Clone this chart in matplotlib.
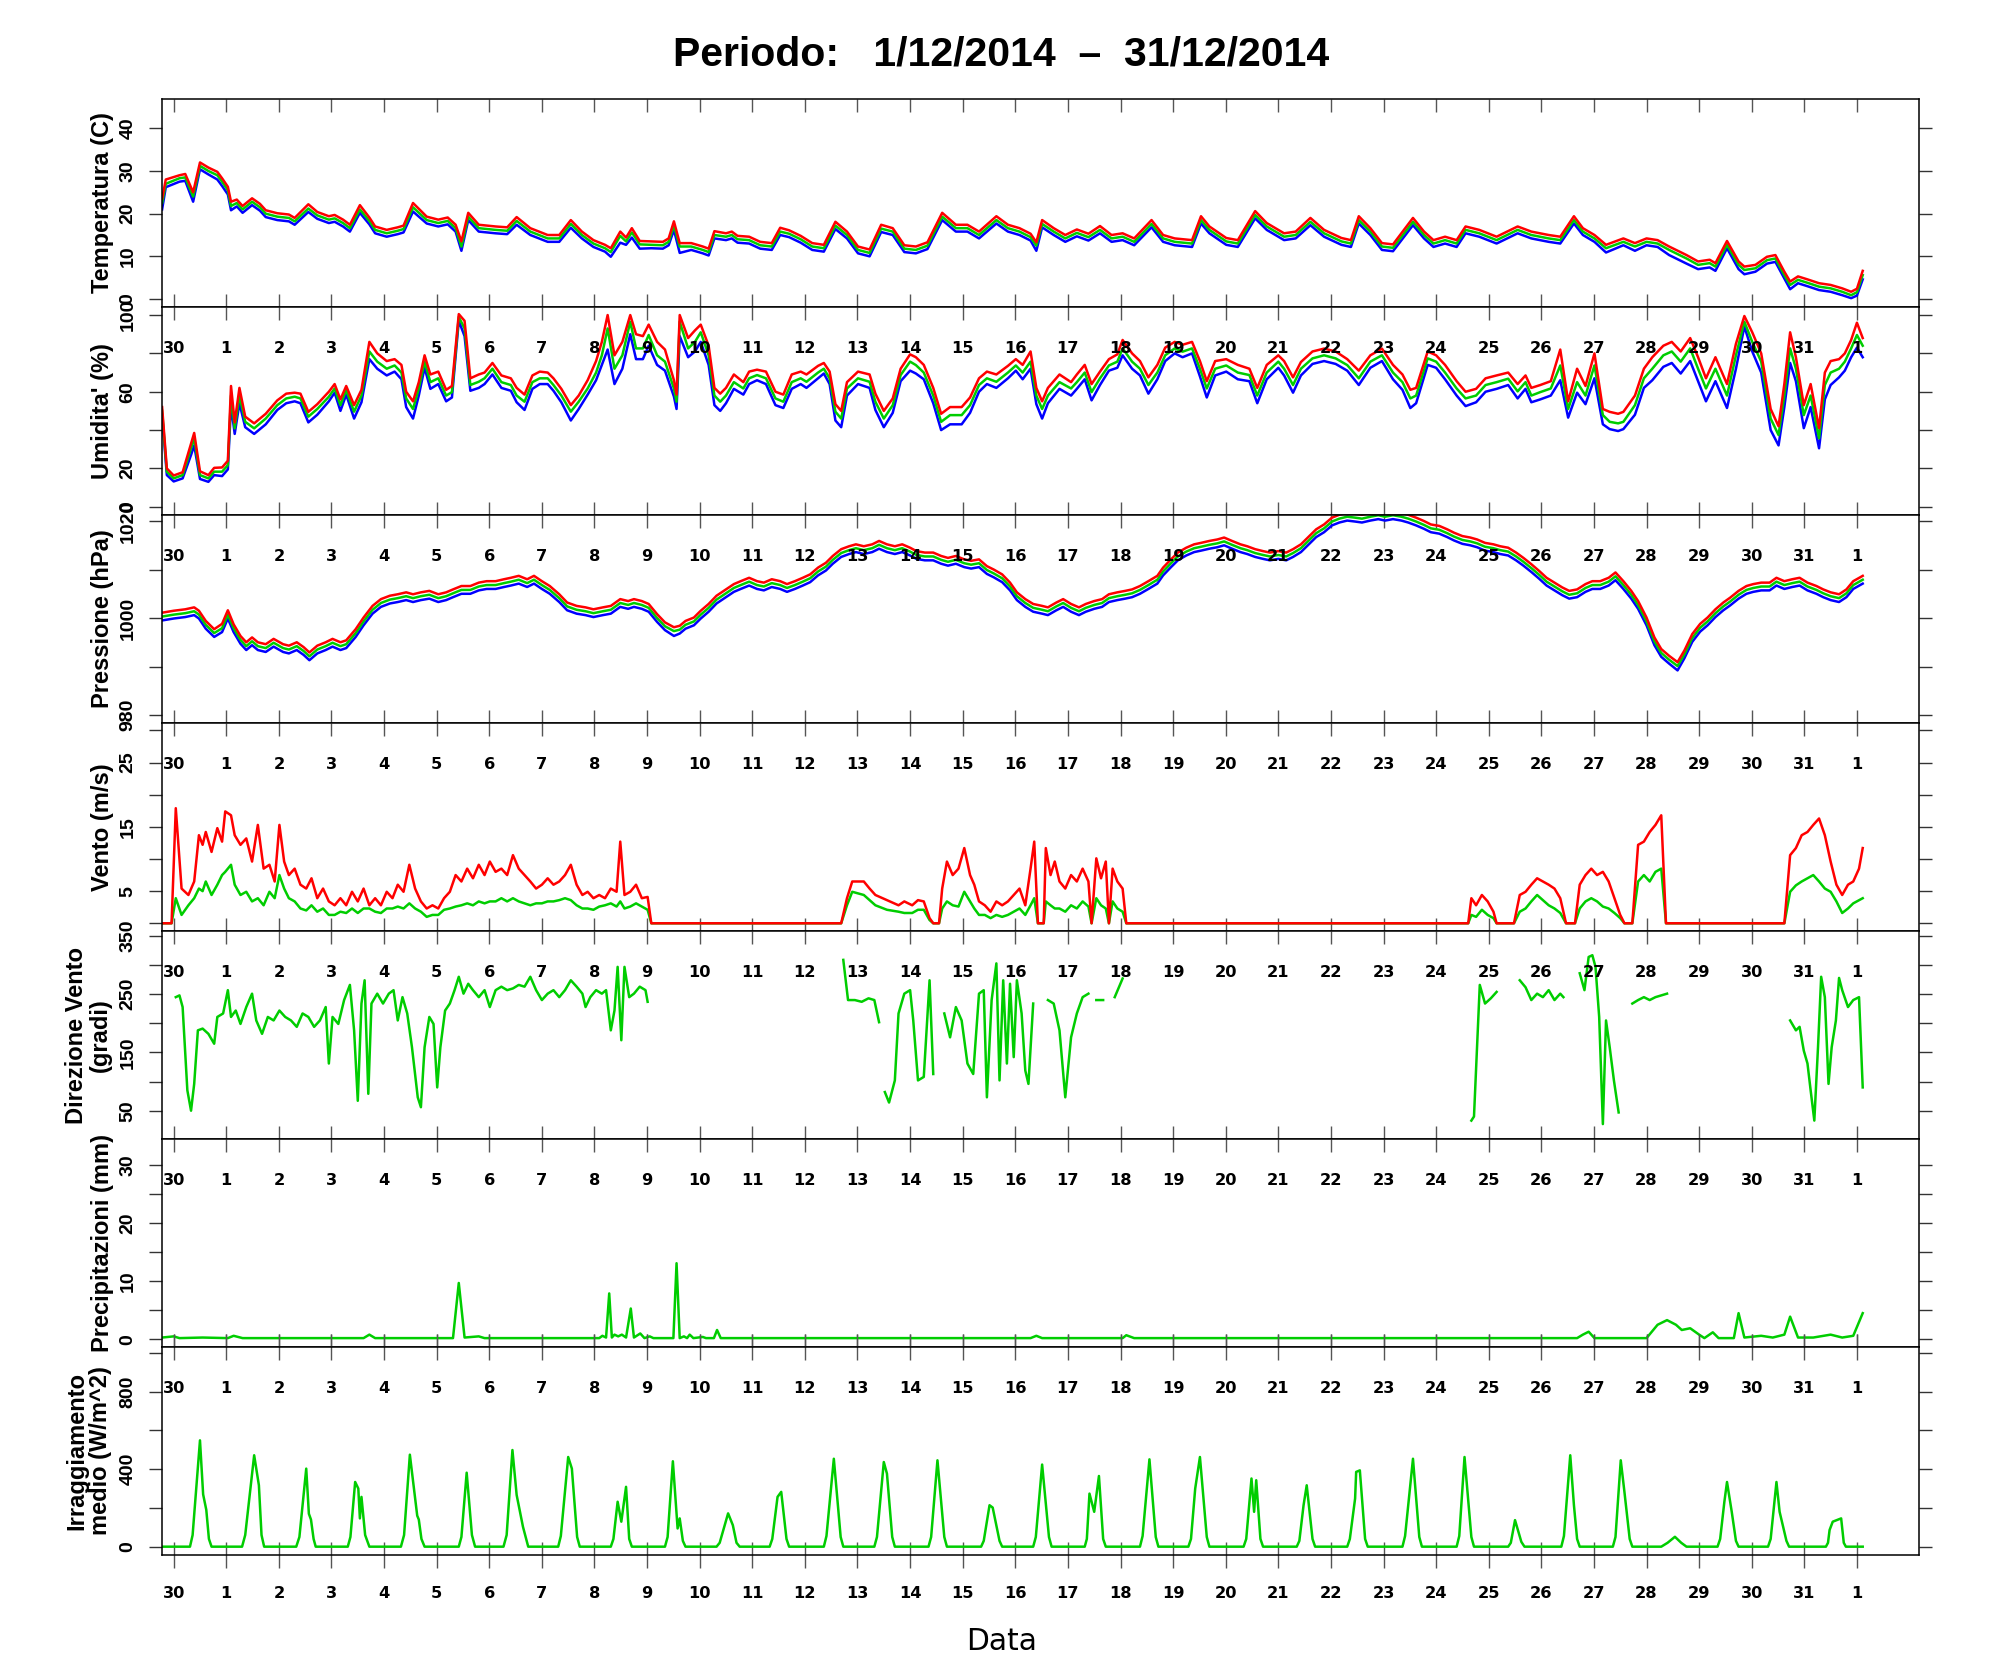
import matplotlib
matplotlib.use("Agg")
import matplotlib.pyplot as plt

nan = float("nan")

# x axis: days, 0 = 30 Nov 00:00, 1 = 1 Dec 00:00 ... 32 = 1 Jan
day_ticks = list(range(33))
day_labels = ["30"] + [str(d) for d in range(1, 32)] + ["1"]

title_text = "Periodo:   1/12/2014  \u2013  31/12/2014"

# ---- temperature (C)
temp_t = [-0.22, -0.15, 0.11, 0.22, 0.37, 0.50, 0.66, 0.83, 0.92, 1.03,
          1.09, 1.20, 1.31, 1.49, 1.64, 1.75, 1.97, 2.19, 2.30, 2.56,
          2.73, 2.95, 3.06, 3.22, 3.35, 3.54, 3.72, 3.83, 4.05, 4.26,
          4.37, 4.55, 4.81, 5.03, 5.21, 5.36, 5.47, 5.60, 5.80, 6.12,
          6.34, 6.52, 6.78, 7.11, 7.33, 7.55, 7.76, 7.98, 8.20, 8.31,
          8.49, 8.60, 8.71, 8.86, 9.08, 9.30, 9.41, 9.51, 9.62, 9.84,
          10.06, 10.17, 10.28, 10.50, 10.61, 10.72, 10.94, 11.15, 11.37, 11.53,
          11.70, 11.92, 12.14, 12.36, 12.58, 12.80, 13.01, 13.23, 13.45, 13.67,
          13.89, 14.11, 14.33, 14.61, 14.87, 15.09, 15.31, 15.64, 15.86, 16.08,
          16.29, 16.40, 16.51, 16.73, 16.95, 17.17, 17.39, 17.61, 17.83, 18.04,
          18.26, 18.59, 18.81, 19.03, 19.36, 19.53, 19.69, 20.01, 20.23, 20.56,
          20.78, 21.11, 21.33, 21.61, 21.87, 22.20, 22.38, 22.53, 22.75, 22.97,
          23.18, 23.56, 23.77, 23.95, 24.17, 24.39, 24.56, 24.82, 25.15, 25.55,
          25.81, 26.14, 26.36, 26.62, 26.79, 27.01, 27.23, 27.56, 27.78, 28.00,
          28.21, 28.43, 28.76, 28.98, 29.20, 29.31, 29.53, 29.75, 29.86, 30.07,
          30.29, 30.45, 30.62, 30.73, 30.88, 31.06, 31.28, 31.50, 31.72, 31.89,
          32.00, 32.11]
temp_mean = [22.5, 27.0, 28.3, 28.5, 24.0, 31.2, 30.0, 29.0, 27.5, 25.5,
             21.8, 22.5, 21.0, 22.8, 21.5, 20.0, 19.3, 19.0, 18.2, 21.2,
             19.6, 18.6, 18.9, 17.8, 16.6, 21.0, 18.3, 16.2, 15.4, 16.0,
             16.4, 21.5, 18.5, 17.8, 18.3, 16.6, 12.3, 19.3, 16.6, 16.2,
             16.0, 18.3, 15.8, 14.2, 14.2, 17.6, 15.0, 13.0, 11.9, 11.0,
             14.8, 13.5, 15.6, 12.8, 12.7, 12.6, 13.4, 17.2, 12.3, 12.3,
             11.5, 11.0, 15.0, 14.6, 15.0, 14.0, 13.8, 12.6, 12.3, 15.8,
             15.3, 14.0, 12.3, 11.9, 17.2, 15.0, 11.5, 10.8, 16.5, 15.8,
             11.8, 11.5, 12.5, 19.3, 16.6, 16.6, 15.0, 18.5, 16.6, 15.8,
             14.5, 12.5, 17.6, 15.8, 14.2, 15.5, 14.5, 16.2, 14.2, 14.6,
             13.4, 17.6, 14.2, 13.4, 13.0, 18.5, 16.2, 13.5, 13.0, 19.7,
             17.0, 14.6, 15.0, 18.1, 15.4, 13.5, 13.0, 18.5, 15.8, 12.3,
             12.0, 18.1, 15.0, 13.0, 13.8, 13.0, 16.2, 15.4, 13.8, 16.2,
             15.0, 14.2, 13.8, 18.5, 15.8, 14.2, 11.9, 13.4, 12.3, 13.4,
             13.0, 11.5, 9.5, 8.0, 8.4, 7.6, 12.7, 8.0, 6.8, 7.2,
             9.1, 9.5, 5.6, 3.3, 4.5, 3.8, 2.9, 2.5, 1.7, 0.9,
             1.6, 5.6]
temp_max = [23.5, 28.0, 29.0, 29.3, 25.0, 32.0, 30.8, 29.8, 28.3, 26.3,
            22.8, 23.3, 21.8, 23.6, 22.3, 20.8, 20.1, 19.8, 19.0, 22.2,
            20.4, 19.4, 19.7, 18.6, 17.4, 22.0, 19.1, 17.0, 16.2, 16.8,
            17.2, 22.5, 19.3, 18.6, 19.1, 17.4, 13.5, 20.2, 17.4, 17.0,
            16.8, 19.2, 16.6, 15.0, 15.0, 18.5, 15.8, 13.8, 12.7, 11.9,
            15.8, 14.4, 16.6, 13.6, 13.5, 13.4, 14.2, 18.2, 13.1, 13.1,
            12.3, 11.8, 15.9, 15.4, 15.8, 14.8, 14.6, 13.4, 13.1, 16.7,
            16.1, 14.8, 13.1, 12.7, 18.1, 15.8, 12.3, 11.6, 17.4, 16.6,
            12.6, 12.3, 13.3, 20.2, 17.4, 17.4, 15.8, 19.4, 17.4, 16.6,
            15.3, 13.3, 18.5, 16.6, 15.0, 16.3, 15.3, 17.1, 15.0, 15.4,
            14.2, 18.5, 15.0, 14.2, 13.8, 19.4, 17.0, 14.3, 13.8, 20.6,
            17.8, 15.4, 15.8, 19.0, 16.2, 14.3, 13.8, 19.4, 16.6, 13.1,
            12.8, 19.0, 15.8, 13.8, 14.6, 13.8, 17.0, 16.2, 14.6, 17.0,
            15.8, 15.0, 14.6, 19.4, 16.6, 15.0, 12.7, 14.2, 13.1, 14.2,
            13.8, 12.3, 10.3, 8.8, 9.2, 8.4, 13.6, 8.8, 7.6, 8.0,
            9.9, 10.3, 6.4, 4.1, 5.3, 4.6, 3.7, 3.3, 2.5, 1.7,
            2.4, 6.6]
temp_min = [21.0, 26.2, 27.5, 27.7, 22.8, 30.4, 29.2, 28.0, 26.5, 24.5,
            20.8, 21.7, 20.2, 22.0, 20.7, 19.2, 18.5, 18.2, 17.4, 20.4,
            18.8, 17.8, 18.1, 17.0, 15.8, 20.2, 17.5, 15.4, 14.6, 15.2,
            15.6, 20.5, 17.7, 17.0, 17.5, 15.8, 11.3, 18.5, 15.8, 15.4,
            15.2, 17.4, 15.0, 13.4, 13.4, 16.7, 14.2, 12.2, 11.1, 9.9,
            13.2, 12.7, 14.4, 11.8, 11.9, 11.8, 12.6, 16.2, 10.8, 11.5,
            10.7, 10.2, 14.2, 13.8, 14.2, 13.2, 13.0, 11.8, 11.5, 15.0,
            14.5, 13.2, 11.5, 11.1, 16.4, 14.2, 10.7, 10.0, 15.7, 15.0,
            11.0, 10.7, 11.7, 18.5, 15.8, 15.8, 14.2, 17.7, 15.8, 15.0,
            13.7, 11.3, 16.8, 15.0, 13.4, 14.7, 13.7, 15.4, 13.4, 13.8,
            12.6, 16.8, 13.4, 12.6, 12.2, 17.7, 15.4, 12.7, 12.2, 18.9,
            16.2, 13.8, 14.2, 17.3, 14.6, 12.7, 12.2, 17.7, 15.0, 11.5,
            11.2, 17.3, 14.2, 12.2, 13.0, 12.2, 15.4, 14.6, 13.0, 15.4,
            14.2, 13.4, 13.0, 17.7, 15.0, 13.4, 10.9, 12.6, 11.3, 12.6,
            12.2, 10.3, 8.3, 7.0, 7.4, 6.6, 11.9, 7.0, 5.8, 6.4,
            8.3, 8.7, 4.8, 2.3, 3.7, 3.0, 2.1, 1.7, 0.9, 0.2,
            0.8, 4.6]

# ---- relative humidity (%)
hum_t = [-0.22, -0.13, 0.00, 0.17, 0.33, 0.39, 0.50, 0.66, 0.77, 0.92,
         1.03, 1.09, 1.16, 1.25, 1.36, 1.53, 1.75, 1.97, 2.14, 2.30,
         2.41, 2.56, 2.73, 2.95, 3.06, 3.17, 3.28, 3.43, 3.57, 3.72,
         3.87, 4.05, 4.20, 4.33, 4.42, 4.55, 4.66, 4.77, 4.88, 5.03,
         5.18, 5.29, 5.42, 5.53, 5.64, 5.80, 5.91, 6.06, 6.23, 6.41,
         6.52, 6.67, 6.82, 6.96, 7.11, 7.22, 7.37, 7.55, 7.70, 7.87,
         8.03, 8.14, 8.25, 8.38, 8.53, 8.68, 8.79, 8.92, 9.03, 9.19,
         9.34, 9.51, 9.56, 9.62, 9.78, 9.91, 10.02, 10.17, 10.28, 10.39,
         10.50, 10.65, 10.83, 10.94, 11.09, 11.26, 11.44, 11.59, 11.75, 11.92,
         12.03, 12.25, 12.36, 12.47, 12.58, 12.69, 12.80, 13.01, 13.23, 13.34,
         13.50, 13.67, 13.82, 14.00, 14.11, 14.26, 14.44, 14.59, 14.76, 14.98,
         15.14, 15.31, 15.46, 15.64, 15.86, 16.01, 16.14, 16.29, 16.40, 16.51,
         16.62, 16.84, 17.06, 17.17, 17.32, 17.45, 17.61, 17.78, 17.94, 18.04,
         18.22, 18.37, 18.53, 18.70, 18.85, 19.03, 19.18, 19.36, 19.51, 19.64,
         19.80, 20.01, 20.23, 20.45, 20.60, 20.78, 21.00, 21.11, 21.28, 21.43,
         21.65, 21.87, 22.09, 22.31, 22.53, 22.75, 22.97, 23.18, 23.36, 23.51,
         23.62, 23.84, 24.00, 24.17, 24.39, 24.56, 24.76, 24.94, 25.15, 25.37,
         25.55, 25.70, 25.81, 25.98, 26.18, 26.36, 26.51, 26.68, 26.84, 27.01,
         27.17, 27.30, 27.46, 27.56, 27.78, 27.95, 28.11, 28.32, 28.48, 28.65,
         28.83, 28.98, 29.13, 29.31, 29.53, 29.70, 29.86, 30.01, 30.18, 30.36,
         30.51, 30.62, 30.73, 30.84, 30.99, 31.12, 31.28, 31.39, 31.50, 31.66,
         31.77, 31.89, 32.00, 32.11]
hum_mean = [50.0, 18.3, 14.8, 16.5, 30.4, 35.7, 16.5, 14.8, 18.3, 18.3,
            21.7, 58.0, 40.9, 58.0, 44.3, 40.9, 46.0, 53.0, 56.5, 57.4,
            56.5, 47.0, 51.0, 57.4, 61.7, 53.0, 60.9, 49.6, 58.0, 81.0,
            75.7, 72.0, 73.7, 70.0, 56.5, 51.0, 61.7, 75.7, 65.0, 67.0,
            58.0, 59.8, 99.0, 93.0, 63.5, 65.2, 67.0, 72.0, 65.0, 63.5,
            58.0, 54.8, 65.0, 67.0, 67.0, 63.5, 58.0, 49.6, 54.8, 61.7,
            70.0, 79.0, 93.0, 72.0, 79.0, 96.5, 82.6, 82.6, 89.6, 79.0,
            75.7, 61.7, 54.8, 96.5, 82.6, 86.0, 91.0, 79.0, 58.0, 54.8,
            58.0, 65.0, 61.7, 67.0, 68.7, 67.0, 56.5, 54.8, 65.0, 67.0,
            65.2, 70.0, 72.0, 67.0, 49.6, 46.0, 61.7, 67.0, 65.2, 54.8,
            46.0, 53.0, 68.7, 75.7, 73.9, 70.0, 58.0, 44.3, 47.8, 47.8,
            53.0, 63.5, 67.0, 65.2, 70.0, 73.7, 70.0, 75.7, 58.0, 51.0,
            58.0, 65.0, 61.7, 65.0, 70.0, 59.8, 67.0, 73.7, 75.7, 82.6,
            75.7, 72.0, 63.5, 70.0, 79.0, 82.6, 80.9, 82.6, 72.0, 61.7,
            72.0, 73.7, 70.0, 68.7, 58.0, 70.0, 75.7, 72.0, 63.5, 72.0,
            77.4, 79.0, 77.4, 73.9, 67.0, 75.7, 79.0, 70.0, 65.0, 56.5,
            58.0, 77.4, 75.7, 70.0, 61.7, 56.5, 58.0, 63.5, 65.0, 66.8,
            60.2, 65.0, 58.0, 59.8, 61.7, 73.7, 51.0, 65.0, 58.0, 73.7,
            47.8, 44.3, 43.5, 44.3, 53.0, 67.0, 72.0, 79.0, 81.0, 75.7,
            82.6, 72.0, 61.7, 72.0, 58.0, 79.0, 96.5, 86.0, 75.7, 46.0,
            37.4, 58.0, 82.6, 72.0, 47.8, 58.0, 35.7, 63.5, 70.0, 72.0,
            75.7, 82.6, 89.6, 84.0]
hum_max = [52.0, 20.0, 16.3, 18.0, 33.0, 38.5, 18.5, 16.5, 20.3, 20.5,
           24.0, 63.0, 44.0, 62.0, 47.0, 43.5, 48.5, 55.5, 59.0, 59.5,
           59.0, 49.5, 53.5, 60.0, 64.0, 56.0, 63.0, 53.0, 61.0, 86.0,
           80.0, 76.0, 77.0, 74.0, 60.0, 55.0, 65.0, 79.0, 69.0, 70.5,
           61.0, 63.0, 100.5, 97.0, 67.0, 69.0, 70.0, 75.0, 68.5, 67.0,
           62.0, 58.5, 68.5, 70.5, 70.0, 67.0, 61.5, 53.0, 58.0, 66.0,
           76.0, 86.0, 100.0, 79.0, 86.0, 100.0, 90.0, 89.0, 95.0, 86.0,
           82.0, 66.0, 58.5, 100.0, 88.0, 92.0, 95.0, 84.0, 62.0, 59.0,
           62.0, 69.0, 65.0, 70.5, 71.5, 70.5, 60.0, 58.5, 69.0, 70.5,
           69.0, 73.5, 75.0, 70.5, 53.5, 50.0, 65.0, 70.5, 69.0, 59.0,
           50.0, 56.5, 72.0, 79.5, 78.0, 74.0, 62.0, 48.5, 52.0, 52.0,
           57.0, 67.0, 70.5, 69.0, 73.5, 77.0, 74.0, 81.0, 62.0, 55.0,
           62.0, 69.0, 65.0, 69.0, 74.0, 64.0, 70.5, 77.0, 79.5, 87.0,
           80.0, 76.0, 67.5, 74.0, 83.0, 86.0, 84.5, 86.0, 76.0, 65.5,
           76.0, 77.0, 74.0, 72.0, 62.0, 74.0, 79.0, 76.0, 67.5, 75.5,
           81.0, 82.5, 81.0, 77.0, 71.0, 79.0, 82.5, 74.0, 69.0, 61.0,
           62.0, 81.0, 79.0, 74.0, 65.5, 60.0, 61.5, 67.0, 68.5, 70.0,
           64.0, 68.5, 62.0, 63.5, 65.5, 82.0, 55.0, 72.0, 63.0, 80.0,
           51.0, 49.5, 48.5, 49.5, 58.0, 72.0, 78.0, 84.0, 86.0, 81.0,
           88.0, 78.0, 67.0, 78.0, 64.0, 85.0, 99.5, 91.0, 80.0, 51.0,
           42.0, 64.0, 91.0, 78.0, 53.0, 64.0, 41.0, 70.0, 76.0, 77.0,
           80.0, 87.0, 96.0, 88.0]
hum_min = [48.0, 16.5, 13.2, 14.8, 27.0, 32.0, 14.5, 13.0, 16.5, 16.0,
           19.5, 53.0, 38.0, 54.0, 41.5, 38.0, 43.0, 50.5, 54.0, 55.0,
           54.0, 44.0, 48.0, 55.0, 59.5, 50.0, 58.5, 46.0, 54.5, 77.0,
           72.0, 68.5, 70.5, 66.5, 52.0, 46.0, 58.0, 72.5, 61.5, 64.0,
           55.0, 57.0, 97.0, 89.0, 60.5, 62.0, 64.0, 69.0, 62.0, 60.5,
           54.5, 50.5, 61.5, 64.0, 64.0, 60.5, 54.5, 45.0, 51.0, 58.5,
           66.0, 74.0, 82.0, 64.0, 72.0, 90.0, 77.0, 77.0, 84.0, 74.0,
           71.0, 57.5, 51.0, 89.0, 78.0, 81.0, 86.0, 74.0, 53.0, 50.0,
           54.0, 61.5, 58.5, 64.0, 66.0, 64.0, 53.0, 51.5, 61.5, 64.0,
           62.0, 67.0, 69.5, 64.0, 45.0, 41.5, 58.0, 64.0, 62.0, 50.5,
           41.5, 49.0, 65.5, 71.0, 69.5, 66.5, 54.0, 40.0, 43.0, 43.0,
           49.0, 60.0, 64.0, 62.0, 67.0, 71.0, 66.5, 72.0, 53.5, 46.0,
           54.0, 61.5, 58.0, 61.5, 66.5, 55.5, 63.5, 71.0, 72.5, 79.0,
           72.0, 68.5, 59.0, 66.5, 76.0, 80.0, 78.0, 80.0, 68.0, 57.0,
           68.5, 70.5, 66.5, 65.5, 54.0, 66.5, 72.5, 68.5, 59.5, 68.5,
           74.5, 76.0, 74.5, 71.0, 63.5, 72.5, 76.0, 66.5, 61.0, 51.5,
           54.0, 74.0, 72.5, 66.5, 58.0, 52.5, 54.5, 60.0, 61.5, 63.5,
           56.5, 61.5, 54.5, 56.0, 58.0, 66.0, 46.5, 59.5, 53.5, 67.0,
           43.0, 40.5, 39.5, 40.5, 48.0, 62.0, 66.0, 73.0, 75.0, 69.5,
           76.0, 65.5, 55.0, 65.5, 51.5, 72.0, 94.0, 81.0, 70.0, 40.0,
           32.0, 52.0, 75.0, 65.5, 41.0, 52.0, 30.5, 56.0, 63.5, 67.5,
           71.0, 78.0, 83.0, 78.0]

# ---- pressure (hPa)
pres_t = [-0.22, 0.00, 0.22, 0.39, 0.48, 0.61, 0.77, 0.92, 1.03, 1.14,
          1.27, 1.38, 1.49, 1.60, 1.75, 1.90, 2.08, 2.19, 2.34, 2.47,
          2.58, 2.73, 2.89, 3.02, 3.17, 3.28, 3.46, 3.61, 3.78, 3.94,
          4.11, 4.26, 4.42, 4.55, 4.70, 4.86, 5.03, 5.18, 5.31, 5.47,
          5.64, 5.80, 5.95, 6.12, 6.28, 6.41, 6.56, 6.72, 6.85, 7.00,
          7.15, 7.33, 7.48, 7.66, 7.83, 7.98, 8.16, 8.31, 8.49, 8.64,
          8.75, 8.90, 9.03, 9.19, 9.34, 9.51, 9.62, 9.73, 9.89, 10.02,
          10.17, 10.32, 10.50, 10.65, 10.78, 10.94, 11.09, 11.22, 11.37, 11.53,
          11.66, 11.81, 11.96, 12.10, 12.25, 12.40, 12.53, 12.69, 12.84, 12.97,
          13.12, 13.28, 13.41, 13.56, 13.71, 13.85, 14.00, 14.12, 14.28, 14.44,
          14.59, 14.72, 14.87, 15.03, 15.16, 15.31, 15.46, 15.59, 15.75, 15.90,
          16.03, 16.19, 16.34, 16.51, 16.62, 16.78, 16.91, 17.06, 17.21, 17.34,
          17.50, 17.65, 17.78, 17.94, 18.09, 18.22, 18.37, 18.53, 18.70, 18.81,
          18.96, 19.09, 19.25, 19.40, 19.53, 19.69, 19.84, 19.97, 20.12, 20.28,
          20.41, 20.56, 20.71, 20.84, 21.00, 21.15, 21.28, 21.43, 21.59, 21.72,
          21.87, 22.02, 22.16, 22.31, 22.46, 22.59, 22.75, 22.90, 23.03, 23.18,
          23.34, 23.47, 23.62, 23.77, 23.90, 24.06, 24.21, 24.34, 24.50, 24.65,
          24.78, 24.93, 25.09, 25.22, 25.37, 25.52, 25.66, 25.81, 25.96, 26.10,
          26.25, 26.40, 26.53, 26.68, 26.84, 26.97, 27.12, 27.28, 27.41, 27.56,
          27.71, 27.84, 28.00, 28.15, 28.28, 28.43, 28.59, 28.72, 28.87, 29.02,
          29.16, 29.31, 29.46, 29.59, 29.75, 29.90, 30.03, 30.18, 30.34, 30.47,
          30.62, 30.77, 30.91, 31.06, 31.23, 31.36, 31.50, 31.66, 31.80, 31.93,
          32.11]
pres_mean = [1000.3, 1000.7, 1001.0, 1001.4, 1000.7, 998.6, 996.9, 997.9, 1000.7, 997.9,
             995.5, 994.2, 995.2, 994.2, 993.8, 994.9, 993.8, 993.5, 994.2, 993.2,
             992.1, 993.5, 994.2, 994.9, 994.2, 994.6, 996.9, 999.3, 1001.7, 1003.1,
             1003.8, 1004.1, 1004.5, 1004.1, 1004.5, 1004.8, 1004.1, 1004.5, 1005.1, 1005.8,
             1005.8, 1006.5, 1006.8, 1006.8, 1007.2, 1007.5, 1007.9, 1007.2, 1007.9, 1006.8,
             1005.8, 1004.1, 1002.4, 1001.7, 1001.4, 1001.0, 1001.4, 1001.7, 1003.1, 1002.7,
             1003.1, 1002.7, 1002.1, 1000.0, 998.3, 997.3, 997.6, 998.6, 999.3, 1000.7,
             1002.1, 1003.8, 1005.1, 1006.2, 1006.8, 1007.5, 1006.8, 1006.5, 1007.2, 1006.8,
             1006.2, 1006.8, 1007.5, 1008.2, 1009.6, 1010.6, 1012.0, 1013.4, 1014.0, 1014.4,
             1014.0, 1014.4, 1015.1, 1014.4, 1014.0, 1014.4, 1013.7, 1013.0, 1012.7, 1012.7,
             1012.0, 1011.6, 1012.0, 1011.3, 1011.0, 1011.3, 1009.9, 1009.2, 1008.2, 1006.5,
             1004.5, 1003.1, 1002.1, 1001.7, 1001.4, 1002.4, 1003.1, 1002.1, 1001.4, 1002.1,
             1002.7, 1003.1, 1004.1, 1004.5, 1004.8, 1005.1, 1005.8, 1006.8, 1007.9, 1009.6,
             1011.3, 1012.7, 1013.7, 1014.4, 1014.7, 1015.1, 1015.4, 1015.8, 1015.1, 1014.4,
             1014.0, 1013.4, 1013.0, 1012.7, 1013.0, 1012.7, 1013.4, 1014.4, 1016.1, 1017.5,
             1018.5, 1019.9, 1020.5, 1020.9, 1020.7, 1020.5, 1020.9, 1021.2, 1020.9, 1021.2,
             1020.9, 1020.5, 1019.9, 1019.2, 1018.5, 1018.2, 1017.5, 1016.8, 1016.1, 1015.8,
             1015.4, 1014.7, 1014.4, 1014.0, 1013.7, 1012.7, 1011.6, 1010.3, 1008.9, 1007.5,
             1006.5, 1005.5, 1004.8, 1005.1, 1006.2, 1006.8, 1006.8, 1007.5, 1008.6, 1006.8,
             1004.8, 1002.7, 999.3, 995.2, 992.8, 991.4, 990.1, 992.5, 995.9, 998.0,
             999.3, 1001.0, 1002.4, 1003.4, 1004.8, 1005.8, 1006.2, 1006.5, 1006.5, 1007.5,
             1006.8, 1007.2, 1007.5, 1006.5, 1005.8, 1005.1, 1004.5, 1004.1, 1005.1, 1006.8,
             1007.9]
pres_max = [1001.1, 1001.5, 1001.8, 1002.2, 1001.5, 999.4, 997.7, 998.8, 1001.6, 998.7,
            996.3, 995.0, 996.0, 995.0, 994.6, 995.7, 994.6, 994.3, 995.0, 994.0,
            992.9, 994.3, 995.0, 995.7, 995.0, 995.4, 997.7, 1000.1, 1002.5, 1003.9,
            1004.6, 1004.9, 1005.3, 1004.9, 1005.3, 1005.6, 1004.9, 1005.3, 1005.9, 1006.6,
            1006.6, 1007.3, 1007.6, 1007.6, 1008.0, 1008.3, 1008.7, 1008.0, 1008.7, 1007.6,
            1006.6, 1004.9, 1003.2, 1002.5, 1002.2, 1001.8, 1002.2, 1002.5, 1003.9, 1003.5,
            1003.9, 1003.5, 1002.9, 1000.8, 999.1, 998.1, 998.4, 999.4, 1000.1, 1001.5,
            1002.9, 1004.6, 1005.9, 1007.0, 1007.6, 1008.3, 1007.6, 1007.3, 1008.0, 1007.6,
            1007.0, 1007.6, 1008.3, 1009.0, 1010.4, 1011.4, 1012.8, 1014.2, 1014.8, 1015.2,
            1014.8, 1015.2, 1015.9, 1015.2, 1014.8, 1015.2, 1014.5, 1013.8, 1013.5, 1013.5,
            1012.8, 1012.4, 1012.8, 1012.1, 1011.8, 1012.1, 1010.7, 1010.0, 1009.0, 1007.3,
            1005.3, 1003.9, 1002.9, 1002.5, 1002.2, 1003.2, 1003.9, 1002.9, 1002.2, 1002.9,
            1003.5, 1003.9, 1004.9, 1005.3, 1005.6, 1005.9, 1006.6, 1007.6, 1008.7, 1010.4,
            1012.1, 1013.5, 1014.5, 1015.2, 1015.5, 1015.9, 1016.2, 1016.6, 1015.9, 1015.2,
            1014.8, 1014.2, 1013.8, 1013.5, 1013.8, 1013.5, 1014.2, 1015.2, 1016.9, 1018.3,
            1019.3, 1020.7, 1021.3, 1021.7, 1021.5, 1021.3, 1021.7, 1022.0, 1021.7, 1022.0,
            1021.7, 1021.3, 1020.7, 1020.0, 1019.3, 1019.0, 1018.3, 1017.6, 1016.9, 1016.6,
            1016.2, 1015.5, 1015.2, 1014.8, 1014.5, 1013.5, 1012.4, 1011.1, 1009.7, 1008.3,
            1007.3, 1006.3, 1005.6, 1005.9, 1007.0, 1007.6, 1007.6, 1008.3, 1009.4, 1007.6,
            1005.6, 1003.5, 1000.1, 996.0, 993.6, 992.2, 990.9, 993.3, 996.7, 998.8,
            1000.1, 1001.8, 1003.2, 1004.2, 1005.6, 1006.6, 1007.0, 1007.3, 1007.3, 1008.3,
            1007.6, 1008.0, 1008.3, 1007.3, 1006.6, 1005.9, 1005.3, 1004.9, 1005.9, 1007.6,
            1008.7]
pres_min = [999.5, 999.9, 1000.2, 1000.6, 999.9, 997.8, 996.1, 997.1, 999.9, 997.1,
            994.7, 993.4, 994.4, 993.4, 993.0, 994.1, 993.0, 992.7, 993.4, 992.4,
            991.3, 992.7, 993.4, 994.1, 993.4, 993.8, 996.1, 998.5, 1000.9, 1002.3,
            1003.0, 1003.3, 1003.7, 1003.3, 1003.7, 1004.0, 1003.3, 1003.7, 1004.3, 1005.0,
            1005.0, 1005.7, 1006.0, 1006.0, 1006.4, 1006.7, 1007.1, 1006.4, 1007.1, 1006.0,
            1005.0, 1003.3, 1001.6, 1000.9, 1000.6, 1000.2, 1000.6, 1000.9, 1002.3, 1001.9,
            1002.3, 1001.9, 1001.3, 999.2, 997.5, 996.3, 996.8, 997.8, 998.5, 999.9,
            1001.3, 1003.0, 1004.3, 1005.4, 1006.0, 1006.7, 1006.0, 1005.7, 1006.4, 1006.0,
            1005.4, 1006.0, 1006.7, 1007.4, 1008.8, 1009.8, 1011.2, 1012.6, 1013.2, 1013.6,
            1013.2, 1013.6, 1014.3, 1013.6, 1013.2, 1013.6, 1012.9, 1012.2, 1011.9, 1011.9,
            1011.2, 1010.8, 1011.2, 1010.5, 1010.2, 1010.5, 1009.1, 1008.4, 1007.4, 1005.7,
            1003.7, 1002.3, 1001.3, 1000.9, 1000.6, 1001.6, 1002.3, 1001.3, 1000.6, 1001.3,
            1001.9, 1002.3, 1003.3, 1003.7, 1004.0, 1004.3, 1005.0, 1006.0, 1007.1, 1008.8,
            1010.5, 1011.9, 1012.9, 1013.6, 1013.9, 1014.3, 1014.6, 1015.0, 1014.3, 1013.6,
            1013.2, 1012.6, 1012.2, 1011.9, 1012.2, 1011.9, 1012.6, 1013.6, 1015.3, 1016.7,
            1017.7, 1019.1, 1019.7, 1020.1, 1019.9, 1019.7, 1020.1, 1020.4, 1020.1, 1020.4,
            1020.1, 1019.7, 1019.1, 1018.4, 1017.7, 1017.4, 1016.7, 1016.0, 1015.3, 1015.0,
            1014.6, 1013.9, 1013.6, 1013.2, 1012.9, 1011.9, 1010.8, 1009.5, 1008.1, 1006.7,
            1005.7, 1004.7, 1004.0, 1004.3, 1005.4, 1006.0, 1006.0, 1006.7, 1007.8, 1006.0,
            1004.0, 1001.9, 998.5, 994.4, 992.0, 990.6, 989.2, 991.7, 995.1, 997.2,
            998.5, 1000.2, 1001.6, 1002.6, 1004.0, 1005.0, 1005.4, 1005.7, 1005.7, 1006.7,
            1006.0, 1006.4, 1006.7, 1005.7, 1005.0, 1004.3, 1003.7, 1003.3, 1004.3, 1006.0,
            1007.1]

# ---- wind speed (m/s): gust (red) and mean (green)
wind_t = [-0.22, -0.04, 0.04, 0.15, 0.28, 0.39, 0.48, 0.55, 0.61, 0.72,
          0.83, 0.92, 0.98, 1.09, 1.16, 1.27, 1.38, 1.49, 1.60, 1.71,
          1.82, 1.92, 2.01, 2.10, 2.19, 2.30, 2.41, 2.52, 2.62, 2.73,
          2.84, 2.95, 3.06, 3.17, 3.28, 3.39, 3.50, 3.61, 3.72, 3.83,
          3.94, 4.05, 4.16, 4.26, 4.37, 4.48, 4.59, 4.70, 4.81, 4.92,
          5.03, 5.14, 5.25, 5.36, 5.47, 5.58, 5.69, 5.80, 5.91, 6.01,
          6.12, 6.23, 6.34, 6.45, 6.56, 6.67, 6.78, 6.89, 7.00, 7.11,
          7.22, 7.33, 7.44, 7.55, 7.66, 7.77, 7.87, 7.98, 8.09, 8.20,
          8.31, 8.42, 8.49, 8.57, 8.68, 8.79, 8.90, 9.01, 9.08, 12.69,
          12.80, 12.90, 13.12, 13.23, 13.34, 13.56, 13.78, 13.89, 14.04, 14.15,
          14.26, 14.37, 14.44, 14.55, 14.61, 14.70, 14.81, 14.92, 15.03, 15.14,
          15.22, 15.31, 15.42, 15.53, 15.64, 15.75, 15.86, 15.97, 16.08, 16.19,
          16.29, 16.36, 16.43, 16.54, 16.58, 16.67, 16.75, 16.84, 16.95, 17.06,
          17.17, 17.28, 17.39, 17.45, 17.54, 17.63, 17.72, 17.78, 17.85, 17.94,
          18.04, 18.11, 24.61, 24.67, 24.76, 24.87, 24.98, 25.09, 25.15, 25.48,
          25.59, 25.70, 25.81, 25.92, 26.03, 26.14, 26.25, 26.36, 26.47, 26.64,
          26.73, 26.84, 26.95, 27.06, 27.17, 27.28, 27.39, 27.50, 27.58, 27.73,
          27.84, 27.95, 28.06, 28.17, 28.28, 28.37, 30.62, 30.73, 30.84, 30.95,
          31.06, 31.17, 31.28, 31.39, 31.50, 31.61, 31.72, 31.83, 31.93, 32.04,
          32.11]
wind_max = [0, 0, 17.9, 5.4, 4.4, 6.5, 13.7, 12.2, 14.2, 11.1,
            14.8, 12.7, 17.4, 16.8, 13.7, 12.2, 13.2, 9.6, 15.3, 8.5,
            9.1, 6.5, 15.3, 9.6, 7.5, 8.5, 6.0, 5.4, 7.0, 3.9,
            5.4, 3.4, 2.8, 3.9, 2.8, 4.9, 3.4, 5.4, 2.8, 3.9,
            2.8, 4.9, 3.9, 6.0, 4.9, 9.1, 5.4, 3.4, 2.3, 2.8,
            2.3, 3.9, 4.9, 7.5, 6.5, 8.5, 7.0, 9.1, 7.5, 9.6,
            8.0, 8.5, 7.5, 10.6, 8.5, 7.5, 6.5, 5.4, 6.0, 7.0,
            6.0, 6.5, 7.5, 9.1, 6.0, 4.4, 4.9, 3.9, 4.4, 3.9,
            5.4, 4.9, 12.7, 4.4, 4.9, 6.0, 3.9, 4.1, 0, 0,
            3.9, 6.5, 6.5, 5.4, 4.4, 3.6, 2.8, 3.4, 2.8, 3.6,
            3.4, 0.8, 0, 0, 5.4, 9.6, 7.5, 8.5, 11.7, 7.5,
            6.0, 3.4, 2.8, 1.8, 3.4, 2.8, 3.4, 4.4, 5.4, 2.8,
            8.5, 12.7, 0, 0, 11.7, 7.5, 9.6, 6.5, 5.4, 7.5,
            6.5, 8.5, 6.5, 0, 10.1, 7.0, 9.6, 0, 8.5, 6.5,
            5.4, 0, 0, 3.9, 2.8, 4.4, 3.4, 1.8, 0, 0,
            4.4, 4.9, 6.0, 7.0, 6.5, 6.0, 5.4, 3.9, 0, 0,
            6.0, 7.5, 8.5, 7.5, 8.0, 6.5, 3.9, 1.3, 0, 0,
            12.2, 12.7, 14.2, 15.3, 16.8, 0, 0, 10.6, 11.7, 13.7,
            14.2, 15.3, 16.3, 13.7, 9.6, 6.0, 4.4, 6.0, 6.5, 8.5,
            11.7]
wind_mean = [0, 0, 3.9, 1.3, 2.8, 3.9, 5.4, 5.0, 6.5, 4.4,
             6.0, 7.5, 8.0, 9.1, 6.0, 4.4, 4.9, 3.4, 3.9, 2.8,
             4.9, 3.9, 7.5, 5.4, 3.9, 3.4, 2.3, 2.0, 2.8, 1.8,
             2.3, 1.3, 1.3, 1.8, 1.6, 2.3, 1.6, 2.3, 2.3, 1.8,
             1.6, 2.3, 2.3, 2.6, 2.3, 3.1, 2.3, 1.8, 1.0, 1.3,
             1.3, 2.1, 2.3, 2.6, 2.8, 3.1, 2.8, 3.4, 3.1, 3.4,
             3.4, 3.9, 3.4, 3.9, 3.4, 3.1, 2.8, 3.1, 3.1, 3.4,
             3.4, 3.6, 3.9, 3.6, 2.8, 2.3, 2.3, 2.1, 2.6, 2.8,
             3.1, 2.6, 3.4, 2.3, 2.6, 3.1, 2.6, 2.1, 0, 0,
             2.8, 4.9, 4.4, 3.6, 2.8, 2.1, 1.8, 1.6, 1.6, 2.1,
             2.1, 0.5, 0, 0, 2.3, 3.4, 2.8, 2.6, 4.9, 3.4,
             2.3, 1.3, 1.3, 0.8, 1.3, 1.0, 1.3, 1.8, 2.3, 1.3,
             2.8, 3.9, 0, 0, 3.4, 2.8, 2.3, 2.3, 1.8, 2.8,
             2.3, 3.4, 2.6, 0, 3.9, 2.8, 2.3, 0, 3.4, 2.3,
             1.8, 0, 0, 1.3, 1.0, 2.1, 1.3, 0.8, 0, 0,
             1.8, 2.3, 3.4, 4.4, 3.6, 2.8, 2.3, 1.6, 0, 0,
             2.3, 3.4, 3.9, 3.4, 2.6, 2.3, 1.6, 0.8, 0, 0,
             6.5, 7.5, 6.5, 8.0, 8.5, 0, 0, 4.9, 5.9, 6.5,
             7.0, 7.5, 6.5, 5.4, 4.9, 3.4, 1.6, 2.3, 3.1, 3.6,
             3.9]

# ---- wind direction (degrees), nan where the wind is calm
dir_t = [0.04, 0.11, 0.17, 0.26, 0.33, 0.39, 0.46, 0.55, 0.66, 0.77,
         0.83, 0.94, 1.03, 1.09, 1.18, 1.27, 1.38, 1.49, 1.57, 1.68,
         1.79, 1.90, 2.01, 2.12, 2.23, 2.34, 2.45, 2.56, 2.67, 2.78,
         2.89, 2.95, 3.02, 3.13, 3.24, 3.35, 3.43, 3.50, 3.57, 3.63,
         3.70, 3.76, 3.87, 3.98, 4.09, 4.18, 4.26, 4.35, 4.44, 4.53,
         4.64, 4.70, 4.77, 4.86, 4.94, 5.01, 5.07, 5.16, 5.25, 5.34,
         5.42, 5.51, 5.60, 5.69, 5.80, 5.91, 6.01, 6.12, 6.23, 6.34,
         6.45, 6.56, 6.67, 6.78, 6.89, 7.00, 7.11, 7.22, 7.33, 7.44,
         7.55, 7.66, 7.77, 7.83, 7.92, 8.03, 8.14, 8.22, 8.31, 8.38,
         8.44, 8.51, 8.57, 8.66, 8.75, 8.86, 8.97, 9.01, 9.05,
         12.73, 12.82, 12.95, 13.08, 13.21, 13.32, 13.41, 13.46,
         13.52, 13.60, 13.71, 13.78, 13.89, 14.00, 14.06, 14.15, 14.26, 14.37, 14.44, 14.50,
         14.65, 14.76, 14.87, 14.98, 15.09, 15.20, 15.31, 15.40, 15.46, 15.55,
         15.64, 15.70, 15.77, 15.84, 15.90, 15.97, 16.03, 16.12, 16.19, 16.25, 16.34, 16.45,
         16.62, 16.73, 16.84, 16.95, 17.06, 17.17, 17.28, 17.39, 17.45,
         17.54, 17.67, 17.75, 17.89, 18.04, 18.08,
         24.67, 24.72, 24.83, 24.93, 25.04, 25.15, 25.30,
         25.59, 25.70, 25.81, 25.92, 26.03, 26.14, 26.25, 26.36, 26.42, 26.55,
         26.73, 26.82, 26.90, 26.97, 27.03, 27.10, 27.17, 27.23, 27.30, 27.38, 27.47, 27.55,
         27.73, 27.84, 27.95, 28.06, 28.17, 28.28, 28.39, 28.50,
         30.73, 30.84, 30.91, 30.99, 31.06, 31.12, 31.19, 31.26, 31.32, 31.39,
         31.46, 31.52, 31.60, 31.66, 31.72, 31.83, 31.93, 32.04, 32.11]
dir_deg = [245, 248, 228, 85, 50, 96, 188, 191, 182, 165,
           211, 217, 257, 211, 222, 199, 228, 251, 205, 182,
           211, 205, 222, 211, 205, 194, 217, 211, 194, 205,
           228, 131, 211, 199, 240, 266, 188, 67, 234, 274,
           79, 234, 251, 234, 251, 257, 205, 245, 217, 159,
           73, 56, 159, 211, 199, 90, 159, 222, 234, 257,
           280, 251, 268, 257, 245, 257, 228, 257, 263, 257,
           260, 266, 263, 280, 257, 240, 251, 257, 245, 257,
           274, 263, 251, 228, 245, 257, 251, 257, 188, 222,
           297, 171, 297, 245, 251, 263, 257, 237, nan,
           309, 240, 240, 237, 243, 240, 202, nan,
           82, 64, 102, 217, 251, 257, 205, 102, 108, 274, 113, nan,
           217, 176, 228, 205, 131, 113, 251, 257, 73, 240,
           303, 102, 274, 131, 268, 142, 274, 217, 119, 96, 234, nan,
           240, 234, 188, 73, 176, 217, 245, 251, nan,
           240, 240, nan, 245, 277, nan,
           33, 40, 266, 234, 243, 254, nan,
           274, 262, 240, 251, 245, 257, 240, 251, 245, nan,
           286, 257, 314, 317, 297, 211, 27, 205, 159, 102, 47, nan,
           234, 240, 245, 240, 245, 248, 251, nan,
           205, 188, 194, 153, 131, 85, 33, 159, 280, 245,
           96, 159, 205, 278, 257, 228, 240, 245, 90]

# ---- precipitation (mm)
prec_t = [-0.22, 0.00, 0.11, 0.55, 1.03, 1.14, 1.31, 3.61, 3.72, 3.83,
          5.31, 5.42, 5.53, 5.80, 5.91,
          8.09, 8.15, 8.22, 8.28, 8.33, 8.38, 8.45, 8.52, 8.60, 8.69,
          8.75, 8.87, 8.95, 9.05, 9.12, 9.50, 9.56, 9.62, 9.70, 9.76,
          9.81, 9.88, 10.06, 10.12, 10.27, 10.33, 10.40,
          16.29, 16.40, 16.51, 18.04, 18.11, 18.26,
          26.68, 26.79, 26.90, 27.01, 28.00, 28.21, 28.39, 28.56, 28.67, 28.83,
          29.00, 29.10, 29.26, 29.37, 29.66, 29.75, 29.86, 30.18, 30.40, 30.62,
          30.73, 30.88, 31.17, 31.50, 31.72, 31.93, 32.11]
prec_mm = [0.3, 0.5, 0.2, 0.3, 0.2, 0.6, 0.2, 0.2, 0.8, 0.2,
           0.2, 9.7, 0.3, 0.5, 0.2,
           0.2, 0.6, 0.3, 7.9, 0.3, 0.8, 0.5, 0.8, 0.3, 5.3,
           0.3, 1.0, 0.2, 0.5, 0.2, 0.2, 13.1, 0.2, 0.5, 0.2,
           0.8, 0.2, 0.4, 0.2, 0.2, 1.6, 0.2,
           0.2, 0.6, 0.2, 0.2, 0.7, 0.2,
           0.2, 0.8, 1.3, 0.2, 0.2, 2.5, 3.3, 2.5, 1.6, 1.9,
           0.8, 0.2, 1.2, 0.2, 0.2, 4.5, 0.3, 0.6, 0.3, 0.8,
           3.9, 0.3, 0.3, 0.8, 0.3, 0.6, 4.5]

# ---- mean solar irradiance (W/m^2), one row per day
irr_t = [-0.22,
         0.31, 0.36, 0.50, 0.56, 0.62, 0.67, 0.72,
         1.30, 1.36, 1.53, 1.62, 1.67, 1.72,
         2.33, 2.39, 2.52, 2.57, 2.61, 2.66, 2.70,
         3.31, 3.36, 3.45, 3.51, 3.54, 3.57, 3.64, 3.72,
         4.32, 4.38, 4.49, 4.63, 4.66, 4.71, 4.77,
         5.42, 5.47, 5.57, 5.67, 5.73,
         6.27, 6.33, 6.44, 6.52, 6.64, 6.74,
         7.31, 7.36, 7.50, 7.57, 7.67, 7.72,
         8.31, 8.36, 8.44, 8.51, 8.60, 8.66, 8.71,
         9.34, 9.39, 9.49, 9.58, 9.62, 9.68, 9.73,
         10.32, 10.38, 10.45, 10.54, 10.63, 10.70, 10.76,
         11.33, 11.38, 11.48, 11.55, 11.65, 11.70,
         12.36, 12.41, 12.55, 12.68, 12.73,
         13.32, 13.37, 13.50, 13.56, 13.66, 13.71,
         14.35, 14.40, 14.52, 14.65, 14.70,
         15.35, 15.40, 15.51, 15.57, 15.70, 15.75,
         16.34, 16.39, 16.51, 16.64, 16.69,
         17.32, 17.36, 17.41, 17.50, 17.59, 17.67, 17.72,
         18.37, 18.42, 18.55, 18.67, 18.72,
         19.29, 19.34, 19.42, 19.51, 19.64, 19.69,
         20.34, 20.39, 20.49, 20.54, 20.58, 20.66, 20.71,
         21.35, 21.40, 21.48, 21.54, 21.65, 21.70,
         22.31, 22.36, 22.46, 22.48, 22.55, 22.65, 22.70,
         23.36, 23.41, 23.56, 23.68, 23.73,
         24.39, 24.44, 24.54, 24.67, 24.72,
         25.37, 25.42, 25.50, 25.62, 25.68,
         26.38, 26.43, 26.55, 26.62, 26.68, 26.73,
         27.36, 27.41, 27.51, 27.58, 27.68, 27.73,
         28.28, 28.40, 28.54, 28.66, 28.76,
         29.35, 29.40, 29.48, 29.53, 29.62, 29.70, 29.75,
         30.31, 30.36, 30.47, 30.53, 30.66, 30.71,
         31.41, 31.45, 31.48, 31.54, 31.70, 31.75, 31.79,
         32.11]
irr_v = [0,
         0, 60, 549, 270, 190, 40, 0,
         0, 60, 472, 317, 60, 0,
         0, 50, 403, 170, 140, 40, 0,
         0, 50, 334, 300, 146, 257, 60, 0,
         0, 60, 475, 160, 140, 40, 0,
         0, 50, 382, 60, 0,
         0, 60, 499, 267, 103, 0,
         0, 55, 463, 403, 50, 0,
         0, 40, 232, 129, 309, 40, 0,
         0, 50, 441, 94, 146, 30, 0,
         0, 20, 86, 172, 111, 20, 0,
         0, 40, 257, 283, 40, 0,
         0, 55, 454, 50, 0,
         0, 50, 437, 377, 50, 0,
         0, 50, 446, 50, 0,
         0, 30, 214, 202, 30, 0,
         0, 50, 424, 50, 0,
         0, 40, 274, 180, 365, 40, 0,
         0, 55, 451, 50, 0,
         0, 40, 300, 463, 50, 0,
         0, 40, 352, 180, 343, 40, 0,
         0, 30, 214, 317, 40, 0,
         0, 40, 249, 386, 394, 40, 0,
         0, 55, 454, 50, 0,
         0, 55, 463, 50, 0,
         0, 20, 137, 25, 0,
         0, 55, 472, 214, 40, 0,
         0, 50, 446, 283, 40, 0,
         0, 20, 51, 20, 0,
         0, 40, 232, 334, 180, 30, 0,
         0, 40, 334, 180, 30, 0,
         0, 20, 86, 129, 146, 20, 0,
         0]

# ---- axis ticks / labels per panel
temp_yticks, temp_ylabels = [0, 10, 20, 30, 40], ["0", "10", "20", "30", "40"]
hum_yticks, hum_ylabels = [0, 20, 40, 60, 80, 100], ["0", "20", "", "60", "", "100"]
pres_yticks, pres_ylabels = [980, 990, 1000, 1010, 1020], ["980", "", "1000", "", "1020"]
wind_yticks, wind_ylabels = [0, 5, 10, 15, 20, 25, 30], ["", "5", "", "15", "", "25", ""]
dir_yticks, dir_ylabels = [50, 100, 150, 200, 250, 300, 350], ["50", "", "150", "", "250", "", "350"]
prec_yticks, prec_ylabels = [0, 5, 10, 15, 20, 25, 30], ["0", "", "10", "", "20", "", "30"]
irr_yticks, irr_ylabels = [0, 200, 400, 600, 800, 1000], ["0", "", "400", "", "800", ""]

RED, GREEN, BLUE = "#ff0000", "#00cd00", "#0000ff"
LW = 1.8
W, H = 1991, 1680
PLOT_L, PLOT_R = 162, 1919
PLOT_T, PANEL_H = 99, 208
XLIM = (-0.222, 33.18)
NARROW = ["Liberation Sans Narrow", "Liberation Sans", "DejaVu Sans"]


def pt(pixels):
    return pixels * 72.0 / 100.0


fig = plt.figure(figsize=(W / 100, H / 100), dpi=100)


def make_panel(i, ylim, yticks, ylabels, ylab, inner=True, last=False):
    top = PLOT_T + i * PANEL_H
    ax = fig.add_axes([PLOT_L / W, 1 - (top + PANEL_H) / H,
                       (PLOT_R - PLOT_L) / W, PANEL_H / H])
    ax.set_xlim(*XLIM)
    ax.set_ylim(*ylim)
    for sp in ax.spines.values():
        sp.set_linewidth(1.1)
    ax.set_xticks(day_ticks)
    ax.tick_params(axis="x", top=True, bottom=True,
                   direction="inout" if last else "in",
                   length=pt(26) if last else pt(13), width=1.0, color="#555555",
                   labeltop=False, labelbottom=last, pad=pt(18))
    if last:
        ax.set_xticklabels(day_labels, fontsize=11.7, fontweight="bold",
                           family="DejaVu Sans")
    else:
        ax.set_xticklabels([])
    ax.set_yticks(yticks)
    ax.set_yticklabels(ylabels, rotation=90, va="center", ha="center",
                       fontsize=14, fontweight="bold", family=NARROW)
    ax.tick_params(axis="y", left=True, right=True, direction="out",
                   length=pt(13), width=1.0, color="#333333", pad=pt(21),
                   labelright=False)
    if inner:
        for d, lab in zip(day_ticks, day_labels):
            ax.text(d, 1 - 46.0 / PANEL_H, lab, transform=ax.get_xaxis_transform(),
                    ha="center", va="baseline", fontsize=11.7, fontweight="bold",
                    family="DejaVu Sans")
    # y label, one or two lines
    yc = 1 - (top + PANEL_H / 2) / H
    lines = ylab.split("\n")
    xs = [102] if len(lines) == 1 else [76.5, 100.5]
    for x, line in zip(xs, lines):
        fig.text(x / W, yc, line, rotation=90, ha="center", va="center",
                 fontsize=17, fontweight="bold", family=NARROW)
    return ax


ax1 = make_panel(0, (-1.87, 46.87), temp_yticks, temp_ylabels, "Temperatura (C)", inner=False)
ax1.plot(temp_t, temp_min, color=BLUE, lw=LW)
ax1.plot(temp_t, temp_mean, color=GREEN, lw=LW)
ax1.plot(temp_t, temp_max, color=RED, lw=LW)

ax2 = make_panel(1, (-4.3, 104.2), hum_yticks, hum_ylabels, "Umidita' (%)")
ax2.plot(hum_t, hum_min, color=BLUE, lw=LW)
ax2.plot(hum_t, hum_mean, color=GREEN, lw=LW)
ax2.plot(hum_t, hum_max, color=RED, lw=LW)

ax3 = make_panel(2, (978.35, 1021.25), pres_yticks, pres_ylabels, "Pressione (hPa)")
ax3.plot(pres_t, pres_min, color=BLUE, lw=LW)
ax3.plot(pres_t, pres_mean, color=GREEN, lw=LW)
ax3.plot(pres_t, pres_max, color=RED, lw=LW)

ax4 = make_panel(3, (-1.2, 31.15), wind_yticks, wind_ylabels, "Vento (m/s)")
ax4.plot(wind_t, wind_mean, color=GREEN, lw=LW)
ax4.plot(wind_t, wind_max, color=RED, lw=LW)

ax5 = make_panel(4, (1.4, 358.6), dir_yticks, dir_ylabels, "Direzione Vento\n(gradi)")
ax5.plot(dir_t, dir_deg, color=GREEN, lw=LW)

ax6 = make_panel(5, (-1.33, 34.5), prec_yticks, prec_ylabels, "Precipitazioni (mm)")
ax6.plot(prec_t, prec_mm, color=GREEN, lw=LW)

ax7 = make_panel(6, (-43, 1031), irr_yticks, irr_ylabels,
                 "Irraggiamento\nmedio (W/m^2)", last=True)
ax7.plot(irr_t, irr_v, color=GREEN, lw=LW)

fig.text(1001.5 / W, 1 - 65.0 / H, title_text, ha="center", va="baseline",
         fontsize=29.5, fontweight="bold", family="Liberation Sans")
fig.text(1002.0 / W, 1 - 1650.0 / H, "Data", ha="center", va="baseline",
         fontsize=21.4, family="DejaVu Sans")

fig.savefig("out.png", dpi=100, facecolor="white")
